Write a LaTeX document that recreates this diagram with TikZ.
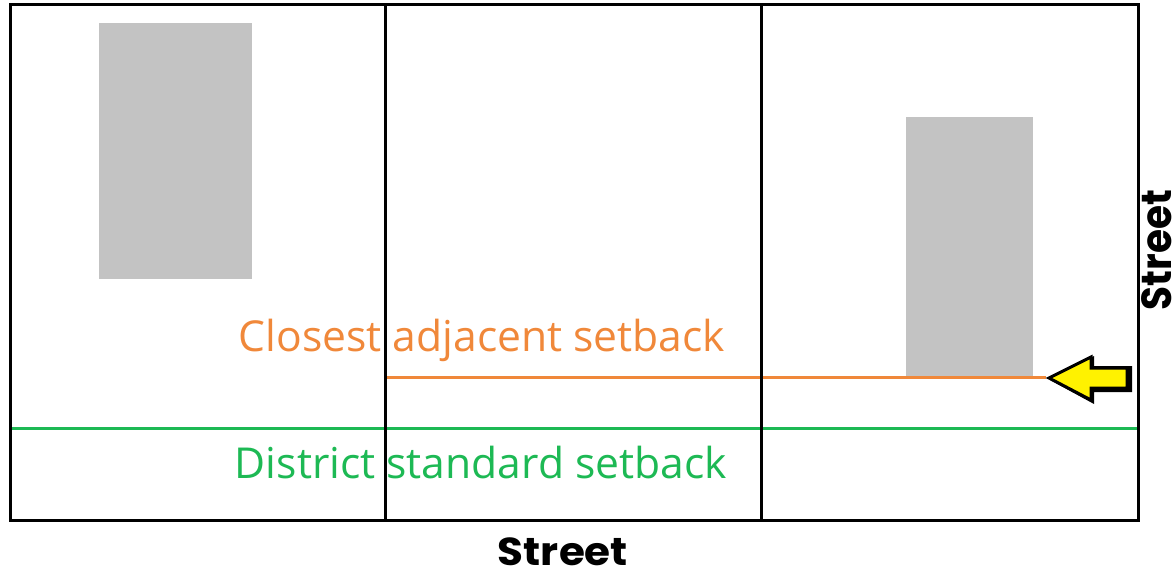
\documentclass[tikz,border=0pt]{standalone}
\usepackage{fontspec}
\setmainfont{Open Sans}
\newfontfamily\streetfont{Poppins}
\definecolor{setorange}{HTML}{F0883A}
\definecolor{setgreen}{HTML}{1DB954}
\definecolor{bldgray}{HTML}{C3C3C3}
\definecolor{arrowyellow}{HTML}{FFF200}
\tikzset{
  lotline/.style={draw=black, line width=3pt},
  building/.style={fill=bldgray, draw=none},
  setlabel/.style={font=\fontsize{42.6}{44}\selectfont, inner sep=0pt, anchor=base},
  streetlabel/.style={font=\streetfont\bfseries\fontsize{39}{41}\selectfont, inner sep=0pt, anchor=base, xscale=1.08},
}
\begin{document}
\begin{tikzpicture}[x=1pt,y=-1pt]
\useasboundingbox (0,0) rectangle (1175,570);
% buildings
\fill[building] (99,23) rectangle (252,279);
\fill[building] (906,117) rectangle (1033,377);
% setback lines
\coordinate (oa) at (385,377);
\coordinate (ob) at (1046,377);
\draw[setorange, line width=3pt] (oa) -- (ob);
\coordinate (ga) at (10,428);
\coordinate (gb) at (1138,428);
\draw[setgreen, line width=3pt] (ga) -- (gb);
% lots
\draw[lotline] (10,4) rectangle (1138,520);
\coordinate (d1t) at (385,4);
\coordinate (d1b) at (385,520);
\coordinate (d2t) at (761,4);
\coordinate (d2b) at (761,520);
\draw[lotline] (d1t) -- (d1b);
\draw[lotline] (d2t) -- (d2b);
% labels
\node[setlabel, text=setorange] (cas) at (482,351) {Closest adjacent setback};
\node[setlabel, text=setgreen] (dss) at (481,478) {District standard setback};
\node[streetlabel] (sb) at (563,565) {Street};
\node[streetlabel, rotate=90] (sr) at (1171,250) {Street};
% arrow
\fill[black] (1050,380) -- (1094,356) -- (1094,366) -- (1132,366) -- (1132,392) -- (1094,392) -- (1094,404) -- cycle;
\draw[fill=arrowyellow, line width=3pt, line join=miter] (1049,378) -- (1091,357) -- (1091,368) -- (1127,368) -- (1127,388) -- (1091,388) -- (1091,400) -- cycle;
\end{tikzpicture}
\end{document}
